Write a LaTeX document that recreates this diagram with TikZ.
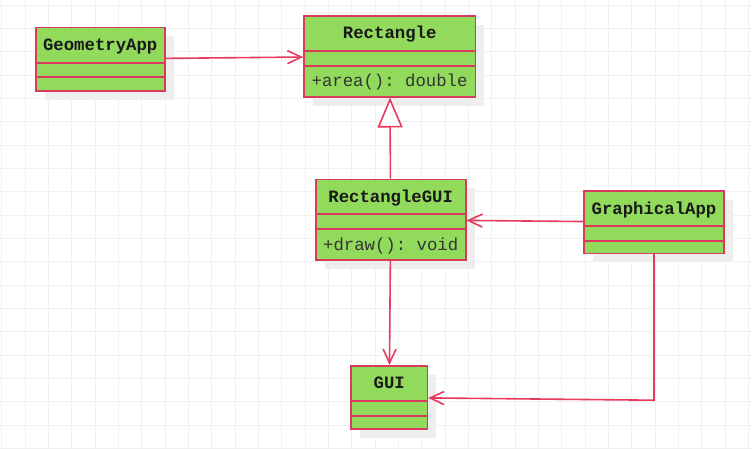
\documentclass[tikz,border=0pt]{standalone}
\usepackage{fontspec}
\setmonofont{Liberation Mono}
\usetikzlibrary{arrows.meta,shadows}
\definecolor{classfill}{RGB}{146,218,92}
\definecolor{classline}{RGB}{218,58,92}
\definecolor{linkline}{RGB}{230,58,94}
\definecolor{gridline}{RGB}{240,240,240}
\definecolor{shadowgray}{RGB}{238,238,238}
\begin{document}
\begin{tikzpicture}[x=1pt,y=-1pt,
  gridrule/.style={draw=gridline,line width=0.9pt},
  classbox/.style={draw=classline,fill=classfill,line width=1.6pt,inner sep=0pt,
    general shadow={shadow xshift=9pt,shadow yshift=-9pt,fill=shadowgray}},
  divider/.style={fill=classline},
  classname/.style={font=\ttfamily\bfseries\fontsize{17.3}{20}\selectfont,text=black!90,anchor=base,inner sep=0pt},
  member/.style={font=\ttfamily\fontsize{17.3}{20}\selectfont,text=black!80,anchor=base west,inner sep=0pt},
  link/.style={draw=linkline,line width=1.6pt},
  assoc/.style={link,-{Straight Barb[length=14pt,width=13pt]}},
  inherit/.style={link,-{Triangle[length=30pt,width=25pt,fill=white]}},
]
% canvas and background grid
\fill[white] (0,0) rectangle (752,448);
\useasboundingbox (0,0) rectangle (752,448);
\foreach \i in {0,...,32} {\draw[gridrule] (1.67+23.333*\i,0) -- (1.67+23.333*\i,448);}
\foreach \j in {0,...,19} {\fill[gridline] (0,4.55+23.333*\j) rectangle (752,5.45+23.333*\j);}

% classes
\node[classbox,minimum width=129pt,minimum height=63.4pt] (geo) at (100.2,59) {};
\node[classbox,minimum width=171.3pt,minimum height=81pt] (rect) at (389.7,56.2) {};
\node[classbox,minimum width=150pt,minimum height=80.7pt] (rgui) at (390.7,219.7) {};
\node[classbox,minimum width=140pt,minimum height=62.3pt] (gapp) at (654,222.2) {};
\node[classbox,minimum width=76.3pt,minimum height=63.3pt] (gui) at (389.2,397.4) {};

% compartment dividers (2pt bands on whole units)
\fill[divider] (geo.west |- 0,62) rectangle (geo.east |- 0,64);
\fill[divider] (geo.west |- 0,76) rectangle (geo.east |- 0,78);
\fill[divider] (rect.west |- 0,50) rectangle (rect.east |- 0,52);
\fill[divider] (rect.west |- 0,65) rectangle (rect.east |- 0,67);
\fill[divider] (rgui.west |- 0,213) rectangle (rgui.east |- 0,215);
\fill[divider] (rgui.west |- 0,228) rectangle (rgui.east |- 0,230);
\fill[divider] (gapp.west |- 0,225) rectangle (gapp.east |- 0,227);
\fill[divider] (gapp.west |- 0,240) rectangle (gapp.east |- 0,242);
\fill[divider] (gui.west |- 0,400) rectangle (gui.east |- 0,402);
\fill[divider] (gui.west |- 0,415) rectangle (gui.east |- 0,417);

% names and operations
\node[classname] (geo-name) at (100.2,50.7) {GeometryApp};
\node[classname] (rect-name) at (389.7,38.3) {Rectangle};
\node[member] (rect-op) at (311.5,86) {+area(): double};
\node[classname] (rgui-name) at (390.7,202.3) {RectangleGUI};
\node[member] (rgui-op) at (323,250) {+draw(): void};
\node[classname] (gapp-name) at (654,214.3) {GraphicalApp};
\node[classname] (gui-name) at (389.2,388.3) {GUI};

% relationships
\coordinate (bend) at (gapp.south |- 0,400.2);
\draw[assoc] (geo) -- (rect);
\draw[inherit] (rgui) -- (rect);
\draw[assoc] (rgui) -- (gui);
\draw[assoc] (gapp) -- (rgui);
\draw[assoc] (gapp.south) -- (bend) -- ([yshift=-0.5pt]gui.east);
\end{tikzpicture}
\end{document}
